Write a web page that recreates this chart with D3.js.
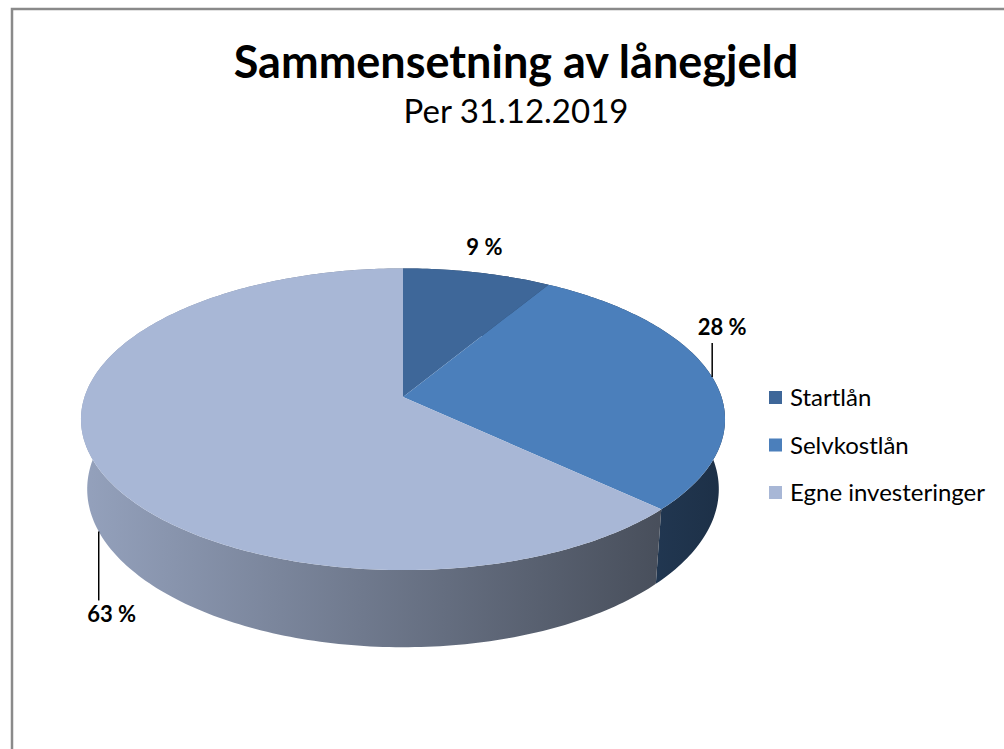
<!DOCTYPE html>
<html>
<head>
<meta charset="utf-8">
<script src="https://cdn.jsdelivr.net/npm/d3@7"></script>
<style>
  html, body { margin: 0; padding: 0; background: #fff; }
  svg { display: block; font-family: Lato, 'Open Sans', sans-serif; }
</style>
</head>
<body>
<div class="pie-chart"></div>
<script>
'use strict';

var categories = ['Startlån', 'Selvkostlån', 'Egne investeringer'],
    shares = [8.6, 28.4, 63.0],
    labelTexts = ['9 %', '28 %', '63 %'],
    colors = ['#3e6799', '#4b7fbb', '#a8b7d6'];

var width = 1004,
    height = 749,
    view = { cx: 403, cy: 397, focal: 1913, dist: 6.006, tilt: 27.6 * Math.PI / 180, depth: 0.25 },
    // where each label sits: rim point (top / bottom of wall), leader length, gap
    labelLayout = [
      { rim: 'top', leader: 0, dx: 7, dy: -17 },
      { rim: 'top', leader: 34, dx: 10, dy: -8 },
      { rim: 'bottom', leader: 69, dx: 13, dy: 22 }
    ];

var svg = d3.select('.pie-chart').append('svg').attr('width', width).attr('height', height),
    defs = svg.append('defs');

// chart frame (right / bottom edges run off the picture)
svg.append('rect')
  .attr('x', 12).attr('y', 9)
  .attr('width', 1100).attr('height', 900)
  .attr('fill', 'none').attr('stroke', '#8a8a8a').attr('stroke-width', 2.5);

svg.append('text')
  .attr('x', 516).attr('y', 78)
  .attr('text-anchor', 'middle')
  .style('font-size', '45px').style('font-weight', 700).attr('fill', '#000')
  .text('Sammensetning av lånegjeld');

svg.append('text')
  .attr('x', 516).attr('y', 123)
  .attr('text-anchor', 'middle')
  .style('font-size', '33px').attr('fill', '#000')
  .text('Per 31.12.2019');

// perspective projection of a point on the disc (theta clockwise from back, r radius, h height)
function project(theta, r, h) {
  var x = r * Math.sin(theta),
      z = r * Math.cos(theta),
      cosT = Math.cos(view.tilt),
      sinT = Math.sin(view.tilt),
      yc = h * cosT + z * sinT,
      zc = -h * sinT + z * cosT + view.dist;
  return [view.cx + view.focal * x / zc, view.cy - view.focal * yc / zc];
}

var pie = d3.pie().sort(null).value(function (d) { return d; }),
    arcs = pie(shares),
    line = d3.line(),
    step = Math.PI / 180;

function arcPoints(a0, a1, h) {
  var pts = [], n = Math.max(2, Math.ceil((a1 - a0) / step)), i;
  for (i = 0; i <= n; i++) {
    pts.push(project(a0 + (a1 - a0) * i / n, 1, h));
  }
  return pts;
}

// side wall shading runs dark to the right, as in the Excel 3D pie
var left = project(-Math.PI / 2, 1, 0)[0],
    right = project(Math.PI / 2, 1, 0)[0],
    shade = d3.scaleLinear().domain([left, right]).range([0.88, 0.38]);

function scaled(c, k) {
  var rgb = d3.rgb(c);
  return d3.rgb(rgb.r * k, rgb.g * k, rgb.b * k).formatHex();
}

arcs.forEach(function (d, i) {
  var g = defs.append('linearGradient')
    .attr('id', 'wall-' + i)
    .attr('gradientUnits', 'userSpaceOnUse')
    .attr('x1', left).attr('x2', right).attr('y1', 0).attr('y2', 0);
  g.append('stop').attr('offset', 0).attr('stop-color', scaled(colors[i], shade(left)));
  g.append('stop').attr('offset', 1).attr('stop-color', scaled(colors[i], shade(right)));
});

// outer walls: one path per slice made of thin quads
var walls = svg.append('g');
arcs.forEach(function (d, i) {
  var top = arcPoints(d.startAngle, d.endAngle, 0),
      bottom = arcPoints(d.startAngle, d.endAngle, -view.depth),
      dStr = '', j;
  for (j = 0; j < top.length - 1; j++) {
    dStr += line([top[j], top[j + 1], bottom[j + 1], bottom[j]]) + 'Z';
  }
  walls.append('path').attr('d', dStr).attr('fill', 'url(#wall-' + i + ')');
});

// top faces
var apex = project(0, 0, 0);
svg.append('g').selectAll('path')
  .data(arcs)
  .enter().append('path')
  .attr('d', function (d) {
    return line([apex].concat(arcPoints(d.startAngle, d.endAngle, 0))) + 'Z';
  })
  .attr('fill', function (d, i) { return colors[i]; });

// data labels with leader lines
var labels = svg.append('g');
arcs.forEach(function (d, i) {
  var mid = (d.startAngle + d.endAngle) / 2,
      lay = labelLayout[i],
      p = project(mid, 1, lay.rim === 'top' ? 0 : -view.depth),
      sign = lay.rim === 'top' ? -1 : 1,
      end = [p[0], p[1] + sign * lay.leader];
  if (lay.leader > 0) {
    labels.append('path')
      .attr('d', line([p, end]))
      .attr('stroke', '#000').attr('stroke-width', 1.5).attr('fill', 'none');
  }
  labels.append('text')
    .attr('x', end[0] + lay.dx).attr('y', end[1] + lay.dy)
    .attr('text-anchor', 'middle')
    .style('font-size', '22px').style('font-weight', 700).attr('fill', '#000')
    .text(labelTexts[i]);
});

// legend
var legend = svg.append('g').attr('transform', 'translate(769,391)'),
    keys = legend.selectAll('g').data(categories).enter().append('g')
      .attr('transform', function (d, i) { return 'translate(0,' + i * 47.5 + ')'; });
keys.append('rect').attr('width', 13).attr('height', 13)
  .attr('fill', function (d, i) { return colors[i]; });
keys.append('text').attr('x', 21).attr('y', 15)
  .style('font-size', '24px').attr('fill', '#000')
  .text(function (d) { return d; });
</script>
</body>
</html>
